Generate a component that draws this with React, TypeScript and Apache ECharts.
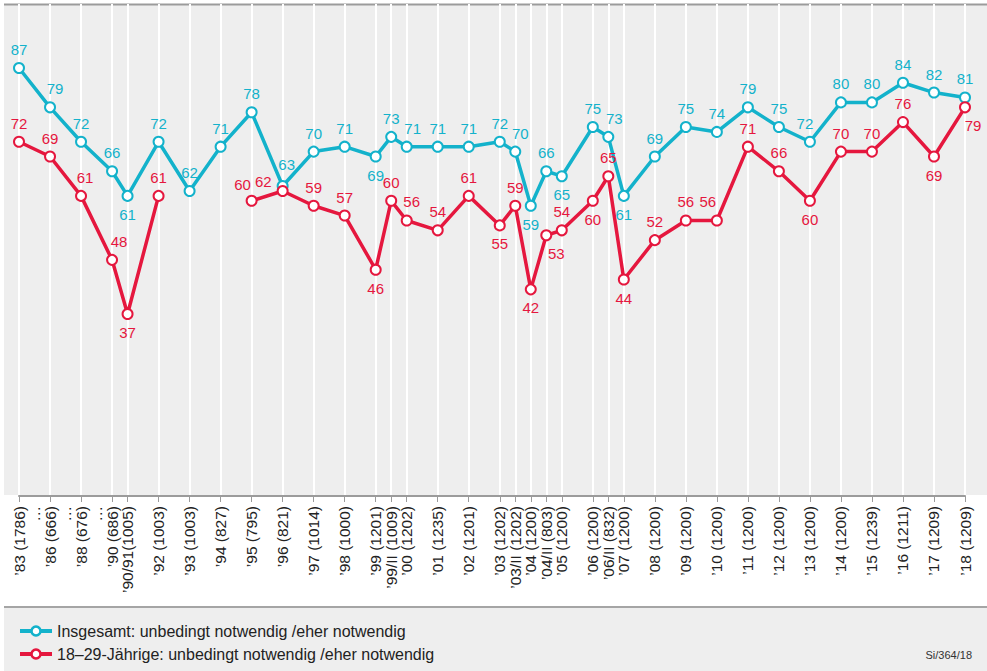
import React, { useEffect, useRef } from "react";
import * as echarts from "echarts";

// Survey waves (year + sample size)
const periods = [
  "’83 (1786)", "’86 (666)", "’88 (676)", "’90 (686)", "’90/91(1005)", "’92 (1003)",
  "’93 (1003)", "’94 (827)", "’95 (795)", "’96 (821)", "’97 (1014)", "’98 (1000)",
  "’99 (1201)", "’99/II (1009)", "’00 (1202)", "’01 (1235)", "’02 (1201)", "’03 (1202)",
  "’03/II (1202)", "’04 (1200)", "’04/II (803)", "’05 (1200)", "’06 (1200)", "’06/II (832)",
  "’07 (1200)", "’08 (1200)", "’09 (1200)", "’10 (1200)", "’11 (1200)", "’12 (1200)",
  "’13 (1200)", "’14 (1200)", "’15 (1239)", "’16 (1211)", "’17 (1209)", "’18 (1209)",
];
// Position of each wave on the time axis, in half-year steps
const timeSlots = [
  0, 2, 4, 6, 7, 9, 11, 13, 15, 17, 19, 21, 23, 24, 25, 27, 29, 31, 32, 33, 34, 35, 37, 38,
  39, 41, 43, 45, 47, 49, 51, 53, 55, 57, 59, 61,
];
const totalSlots = 62;
const omittedSlots = [1, 3, 5];
const omittedMark = "…";

const seriesNames = [
  "Insgesamt: unbedingt notwendig /eher notwendig",
  "18–29-Jährige: unbedingt notwendig /eher notwendig",
];
const insgesamt = [
  87, 79, 72, 66, 61, 72, 62, 71, 78, 63, 70, 71, 69, 73, 71, 71, 71, 72, 70, 59, 66, 65, 75, 73,
  61, 69, 75, 74, 79, 75, 72, 80, 80, 84, 82, 81,
];
const jung: (number | null)[] = [
  72, 69, 61, 48, 37, 61, null, null, 60, 62, 59, 57, 46, 60, 56, 54, 61, 55, 59, 42, 53, 54, 60, 65,
  44, 52, 56, 56, 71, 66, 60, 70, 70, 76, 69, 79,
];
const sourceNote = "Si/364/18";

// label placement tweaks (index -> label options)
const blueLabel: Record<number, any> = {
  1: { offset: [5, 0] },
  4: { position: "bottom" },
  9: { offset: [4, -3] },
  12: { position: "bottom" },
  14: { offset: [6, 0] },
  18: { offset: [5, 0] },
  19: { position: "bottom" },
  21: { position: "bottom" },
  23: { offset: [6, 0] },
  24: { position: "bottom" },
  30: { offset: [-5, 0] },
};
const redLabel: Record<number, any> = {
  2: { offset: [4, 0] },
  3: { offset: [7, 0] },
  4: { position: "bottom" },
  8: { offset: [-9, 2] },
  9: { position: "left", offset: [0, -9] },
  12: { position: "bottom" },
  14: { offset: [5, 0] },
  17: { position: "bottom" },
  19: { position: "bottom" },
  20: { position: "bottom", offset: [10, 0] },
  22: { position: "bottom" },
  24: { position: "bottom" },
  27: { offset: [-9, 0] },
  30: { position: "bottom" },
  34: { position: "bottom" },
  35: { position: "bottom", offset: [8, 0] },
};

const BLUE = "#13b2cb";
const RED = "#e5173e";
const FONT = "'Liberation Sans', Arial, Helvetica, sans-serif";

export default function App() {
  const ref = useRef<HTMLDivElement>(null);

  useEffect(() => {
    document.body.style.margin = "0";
    if (!ref.current) return;
    const chart = echarts.init(ref.current, null, { renderer: "svg" });

    const cats: string[] = [];
    const gapCats: string[] = [];
    for (let i = 0; i < totalSlots; i++) {
      const k = timeSlots.indexOf(i);
      cats.push(k >= 0 ? periods[k] : "");
      gapCats.push(omittedSlots.includes(i) ? omittedMark : "");
    }
    const isWave = (idx: number) => timeSlots.includes(idx);

    const mk = (vals: (number | null)[], tweaks: Record<number, any>) =>
      vals.map((v, i) => {
        const item: any = { value: [timeSlots[i], v == null ? "-" : v] };
        if (tweaks[i]) item.label = tweaks[i];
        return item;
      });

    const seriesBase = (name: string, color: string, data: any[]) => ({
      name,
      type: "line",
      data,
      symbol: "emptyCircle",
      symbolSize: 10,
      showAllSymbol: true,
      connectNulls: false,
      lineStyle: { color, width: 3.5 },
      itemStyle: { color, borderColor: color, borderWidth: 2.5 },
      label: {
        show: true,
        position: "top",
        color,
        fontSize: 15,
        fontFamily: FONT,
        formatter: (p: any) => String(p.value[1]),
      },
      emphasis: { disabled: true },
    });

    const legendItems: any[] = [];
    [BLUE, RED].forEach((c, i) => {
      const y = 631 + i * 23;
      legendItems.push(
        { type: "line", shape: { x1: 20, y1: y, x2: 52, y2: y }, style: { stroke: c, lineWidth: 4 } },
        { type: "circle", shape: { cx: 36, cy: y, r: 4.5 }, style: { fill: "#fff", stroke: c, lineWidth: 2.5 } },
        {
          type: "text",
          x: 57,
          y,
          style: {
            text: seriesNames[i],
            fontSize: 16,
            fill: "#222",
            fontFamily: FONT,
            verticalAlign: "middle",
            align: "left",
          },
        }
      );
    });

    const labelStyle = {
      rotate: 90,
      fontSize: 15.5,
      color: "#222",
      margin: 10,
      fontFamily: FONT,
    };

    chart.setOption({
      animation: false,
      textStyle: { fontFamily: FONT },
      grid: { left: 19, right: 22, top: 4, bottom: 175 },
      xAxis: [
        {
          type: "category",
          data: cats,
          boundaryGap: false,
          axisLine: { lineStyle: { color: "#9b9b9b", width: 2 } },
          axisTick: {
            interval: (idx: number) => isWave(idx),
            length: 6,
            lineStyle: { color: "#9b9b9b", width: 1 },
          },
          axisLabel: {
            ...labelStyle,
            interval: (idx: number) => isWave(idx),
            showMinLabel: true,
            showMaxLabel: true,
          },
          splitLine: {
            show: true,
            interval: (idx: number) => isWave(idx),
            lineStyle: { color: "#ffffff", width: 2 },
          },
        },
        {
          type: "category",
          data: gapCats,
          position: "bottom",
          boundaryGap: false,
          axisLine: { show: false },
          axisTick: { show: false },
          splitLine: { show: false },
          axisLabel: {
            ...labelStyle,
            interval: (idx: number) => omittedSlots.includes(idx),
          },
        },
      ],
      yAxis: { type: "value", min: 0, max: 100, show: false },
      graphic: [
        { type: "rect", z: -100, shape: { x: 4, y: 5, width: 983, height: 490 }, style: { fill: "#eeeeee" } },
        { type: "line", z: -99, shape: { x1: 4, y1: 4.5, x2: 987, y2: 4.5 }, style: { stroke: "#9b9b9b", lineWidth: 2 } },
        { type: "rect", z: -100, shape: { x: 4, y: 608, width: 983, height: 63 }, style: { fill: "#eeeeee" } },
        { type: "line", z: -99, shape: { x1: 4, y1: 607, x2: 987, y2: 607 }, style: { stroke: "#a5a5a5", lineWidth: 2 } },
        ...legendItems,
        {
          type: "text",
          right: 15,
          top: 649,
          style: { text: sourceNote, fontSize: 11, fill: "#333", fontFamily: FONT },
        },
      ],
      series: [
        seriesBase(seriesNames[0], BLUE, mk(insgesamt, blueLabel)),
        seriesBase(seriesNames[1], RED, mk(jung, redLabel)),
      ],
    });

    return () => chart.dispose();
  }, []);

  return <div ref={ref} style={{ width: 987, height: 671 }} />;
}
